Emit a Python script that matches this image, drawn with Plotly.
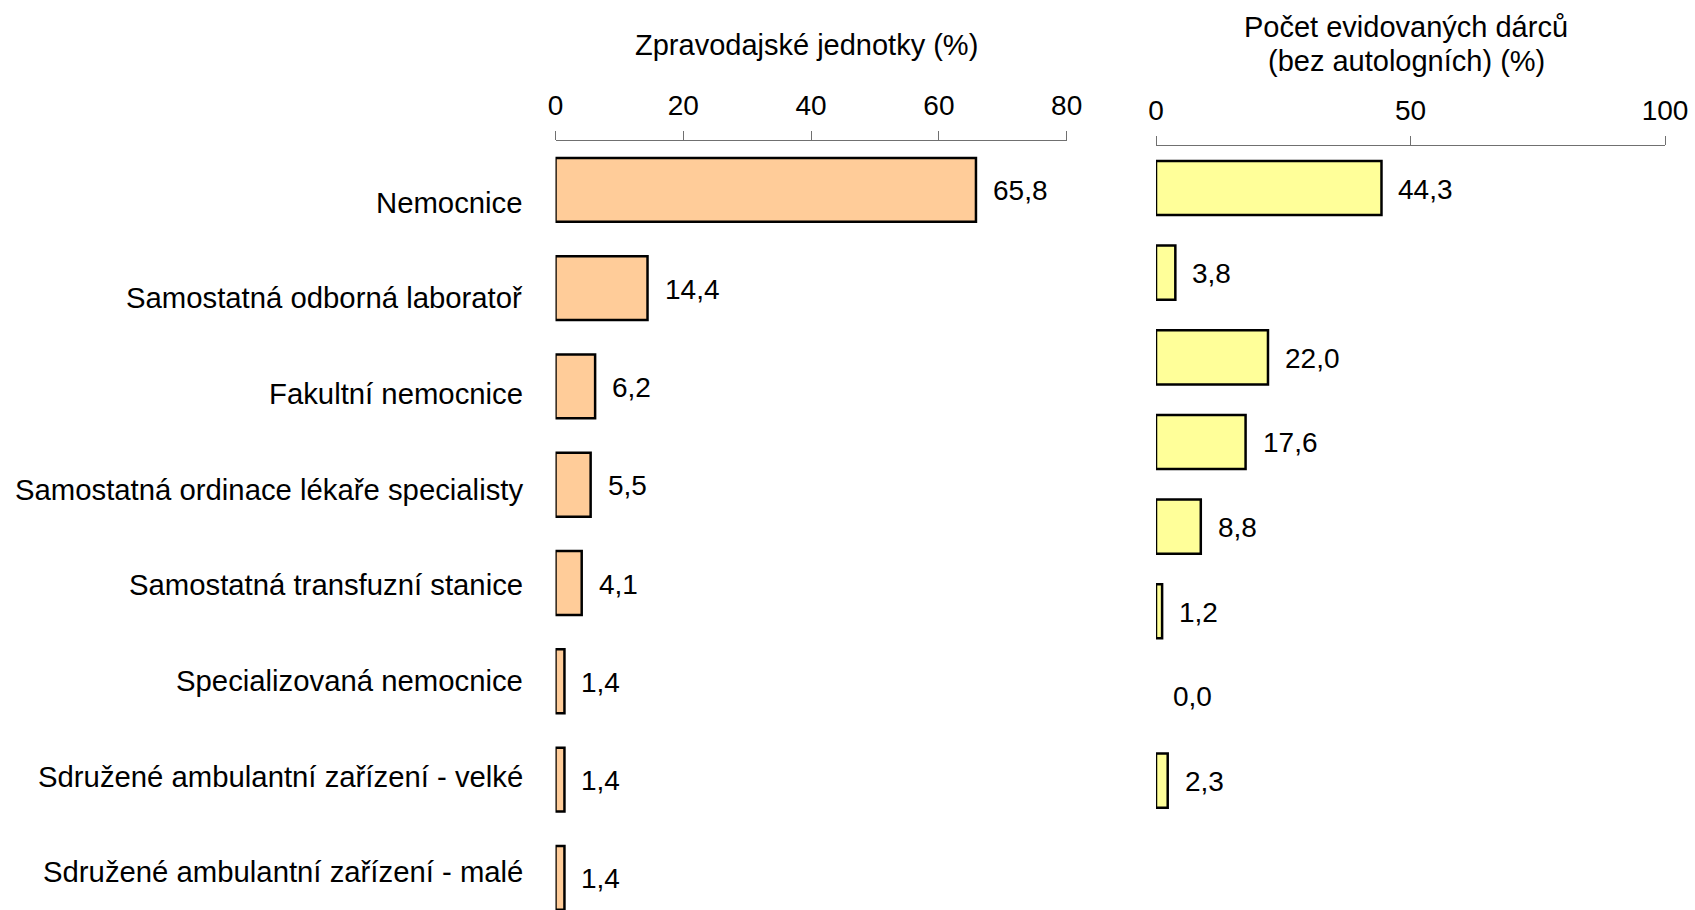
import plotly.graph_objects as go

categories = [
    "Nemocnice",
    "Samostatná odborná laboratoř",
    "Fakultní nemocnice",
    "Samostatná ordinace lékaře specialisty",
    "Samostatná transfuzní stanice",
    "Specializovaná nemocnice",
    "Sdružené ambulantní zařízení - velké",
    "Sdružené ambulantní zařízení - malé",
]
units_pct = [65.8, 14.4, 6.2, 5.5, 4.1, 1.4, 1.4, 1.4]
donors_pct = [44.3, 3.8, 22.0, 17.6, 8.8, 1.2, 0.0, 2.3]
left_ticks = [0, 20, 40, 60, 80]
right_ticks = [0, 50, 100]
left_title = "Zpravodajské jednotky (%)"
right_title_lines = ["Počet evidovaných dárců", "(bez autologních) (%)"]

W, H = 1695, 910
FONT = "Liberation Sans, Arial, sans-serif"

def fmt(v):
    return f"{v:.1f}".replace(".", ",")

def px_x(p):
    return p / W

def px_y(p):
    return 1 - p / H

fig = go.Figure()
fig.add_trace(go.Bar(
    x=units_pct, y=categories, orientation="h",
    marker=dict(color="#FFCC99",
                line=dict(color="black", width=[2.5 if v > 0 else 0 for v in units_pct])),
    width=0.65, xaxis="x", yaxis="y", hoverinfo="x+y",
))
fig.add_trace(go.Bar(
    x=donors_pct, y=categories, orientation="h",
    marker=dict(color="#FFFF99",
                line=dict(color="black", width=[2.5 if v > 0 else 0 for v in donors_pct])),
    width=0.64, xaxis="x2", yaxis="y2", hoverinfo="x+y",
))

annotations = []
for c, v in zip(categories, units_pct):
    annotations.append(dict(x=v, y=c, xref="x", yref="y", text=fmt(v),
                            showarrow=False, xanchor="left", yanchor="middle",
                            xshift=15, yshift=-1, font=dict(size=28, color="black", family=FONT)))
for c, v in zip(categories, donors_pct):
    annotations.append(dict(x=v, y=c, xref="x2", yref="y2", text=fmt(v),
                            showarrow=False, xanchor="left", yanchor="middle",
                            xshift=15, yshift=-1, font=dict(size=28, color="black", family=FONT)))
for i, c in enumerate(categories):
    annotations.append(dict(x=px_x(525), y=i, xref="paper", yref="y3", text=c,
                            showarrow=False, xanchor="right", yanchor="middle",
                            font=dict(size=29.3, color="black", family=FONT)))
annotations.append(dict(x=px_x(806), y=px_y(45), xref="paper", yref="paper", text=left_title,
                        showarrow=False, xanchor="center", yanchor="middle",
                        font=dict(size=29, color="black", family=FONT)))
for k, line in enumerate(right_title_lines):
    annotations.append(dict(x=px_x(1406), y=px_y(27 + 34.5 * k), xref="paper", yref="paper", text=line,
                            showarrow=False, xanchor="center", yanchor="middle",
                            font=dict(size=29, color="black", family=FONT)))

axis_common = dict(side="top", showline=True, linecolor="#707070", linewidth=1.4,
                   ticks="outside", tickcolor="#707070", tickwidth=1.4, ticklen=9,
                   showgrid=False, zeroline=False, tickfont=dict(size=28, color="black", family=FONT),
                   ticklabelstandoff=4, fixedrange=True, automargin=False)
yhidden = dict(showticklabels=False, showline=False, ticks="", showgrid=False, zeroline=False,
               fixedrange=True, automargin=False)

fig.update_layout(
    template="none",
    width=W, height=H, autosize=False,
    margin=dict(l=0, r=0, t=0, b=0, pad=0, autoexpand=False),
    paper_bgcolor="white", plot_bgcolor="rgba(0,0,0,0)",
    showlegend=False,
    xaxis=dict(domain=[px_x(555.5), px_x(1066.7)], range=[0, 80], anchor="y",
               tickvals=left_ticks, ticktext=[str(t) for t in left_ticks], **axis_common),
    yaxis=dict(domain=[0, px_y(140.7)], range=[7.327, -0.5], anchor="x",
               type="category", categoryorder="array", categoryarray=categories, **yhidden),
    xaxis2=dict(domain=[px_x(1156), px_x(1665)], range=[0, 100], anchor="y2",
                tickvals=right_ticks, ticktext=[str(t) for t in right_ticks], **axis_common),
    yaxis2=dict(domain=[px_y(822.9), px_y(145.7)], range=[7.5, -0.5], anchor="x2",
                type="category", categoryorder="array", categoryarray=categories, **yhidden),
    # label rows: spaced 95.7 px, first row at 202 px, within y's domain (140.7..910 px)
    yaxis3=dict(overlaying="y", anchor="x", range=[7.398, -0.6405],
                visible=False, fixedrange=True, automargin=False),
    annotations=annotations,
    font=dict(family=FONT, color="black"),
)

post = (
    "document.documentElement.style.margin='0';"
    "document.body.style.margin='0';document.body.style.padding='0';"
    "document.documentElement.style.overflow='hidden';document.body.style.overflow='hidden';"
)
fig.write_html("out.html", config={"displayModeBar": False, "responsive": False},
               post_script=post)
